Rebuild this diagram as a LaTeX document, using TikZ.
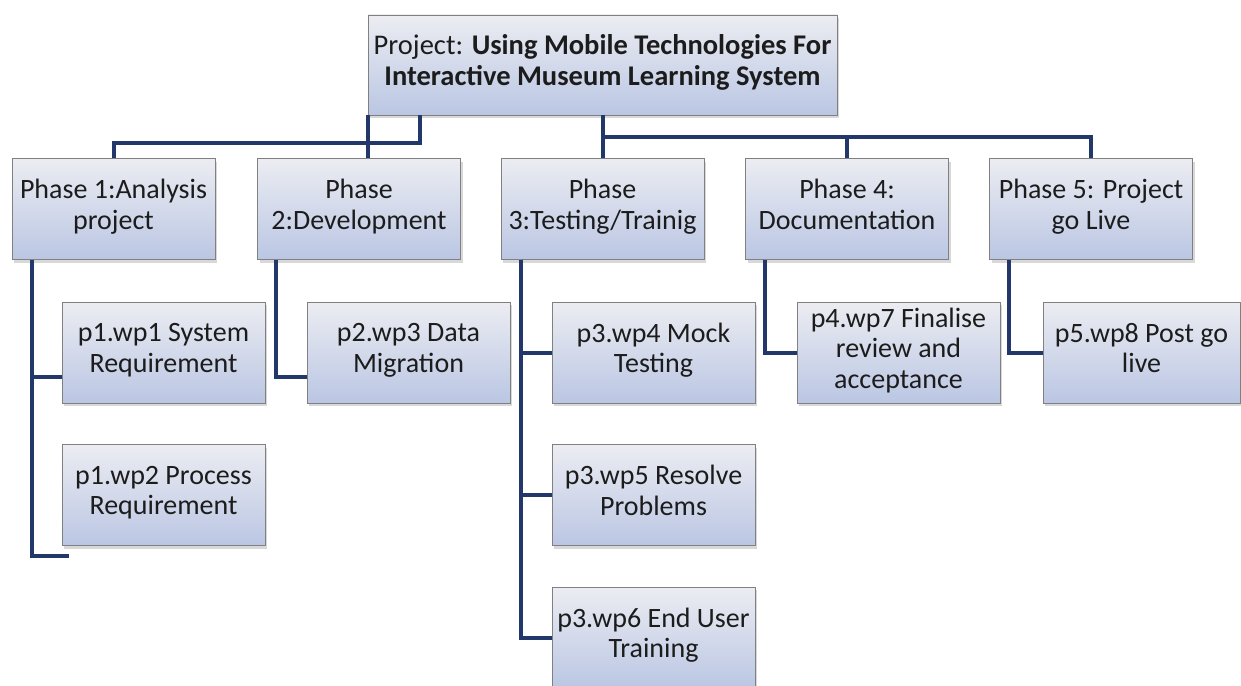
\documentclass[tikz,border=0pt]{standalone}
\usepackage{fontspec}
\setmainfont{Carlito}
\usetikzlibrary{shadows}
\definecolor{linkblue}{HTML}{22386B}
\definecolor{boxtop}{HTML}{ECEDF2}
\definecolor{boxbot}{HTML}{BAC6E3}
\definecolor{boxedge}{HTML}{808080}
\definecolor{inktext}{HTML}{1C1C1C}
\tikzset{
  wbs/.style={draw=boxedge, line width=0.8pt, top color=boxtop, bottom color=boxbot,
    drop shadow={opacity=0.3, shadow xshift=2pt, shadow yshift=-3pt},
    inner sep=0pt, align=center, text=inktext,
    minimum width=203pt, minimum height=101pt,
    execute at begin node=\strut, execute at end node=\strut,
    font=\fontsize{28}{30.5}\selectfont},
  link/.style={draw=linkblue, line width=4pt, line join=miter}
}
\begin{document}
\begin{tikzpicture}[x=1pt, y=-1pt]
\useasboundingbox[fill=white] (0,0) rectangle (1241,685);

% root of the breakdown
\node[wbs, minimum width=469pt, minimum height=100pt, font=\fontsize{28.5}{31}\selectfont]
  (top) at (602.5,65) {Project: \textbf{Using Mobile Technologies For}\\\textbf{Interactive Museum Learning System}};

% phases
\node[wbs] (ph1) at (113.5,209) {Phase 1:Analysis\\project};
\node[wbs] (ph2) at (359,209) {Phase\\2:Development};
\node[wbs] (ph3) at (602.5,209) {Phase\\3:Testing/Trainig};
\node[wbs] (ph4) at (847,209) {Phase 4:\\Documentation};
\node[wbs] (ph5) at (1091,209) {Phase 5: Project\\go Live};

% work packages
\node[wbs] (wp1) at (163.5,352.5) {p1.wp1 System\\Requirement};
\node[wbs] (wp2) at (163.5,495) {p1.wp2 Process\\Requirement};
\node[wbs] (wp3) at (408.5,352.5) {p2.wp3 Data\\Migration};
\node[wbs] (wp4) at (653.5,352.5) {p3.wp4 Mock\\Testing};
\node[wbs] (wp5) at (653.5,495) {p3.wp5 Resolve\\Problems};
\node[wbs] (wp6) at (653.5,637.5) {p3.wp6 End User\\Training};
\node[wbs] (wp7) at (898.5,352.5) {p4.wp7 Finalise\\review and\\acceptance};
\node[wbs, minimum width=197pt] (wp8) at (1141.5,352.5) {p5.wp8 Post go\\live};

% junctions
\coordinate (jl) at (420,143);
\coordinate (jr) at (602.5,137);
\coordinate (e1) at (69,556);

% root to phases
\draw[link] (top.south west) -- (top.south west |- ph2.north);
\draw[link] (top.south -| jl) -- (jl) -| (ph1.north);
\draw[link] (top.south) -- (ph3.north);
\draw[link] (jr) -| (ph4.north);
\draw[link] (jr) -| (ph5.north);

% phases to work packages
\draw[link] ([xshift=20pt]ph1.south west) |- ([yshift=-24.5pt]wp1.west);
\draw[link] ([xshift=20pt]ph1.south west) |- (e1);
\draw[link] ([xshift=19pt]ph2.south west) |- ([yshift=-24.5pt]wp3.west);
\draw[link] ([xshift=20pt]ph3.south west) |- (wp4.west);
\draw[link] ([xshift=20pt]ph3.south west) |- (wp5.west);
\draw[link] ([xshift=20pt]ph3.south west) |- (wp6.west);
\draw[link] ([xshift=20pt]ph4.south west) |- (wp7.west);
\draw[link] ([xshift=20pt]ph5.south west) |- (wp8.west);
\end{tikzpicture}
\end{document}
